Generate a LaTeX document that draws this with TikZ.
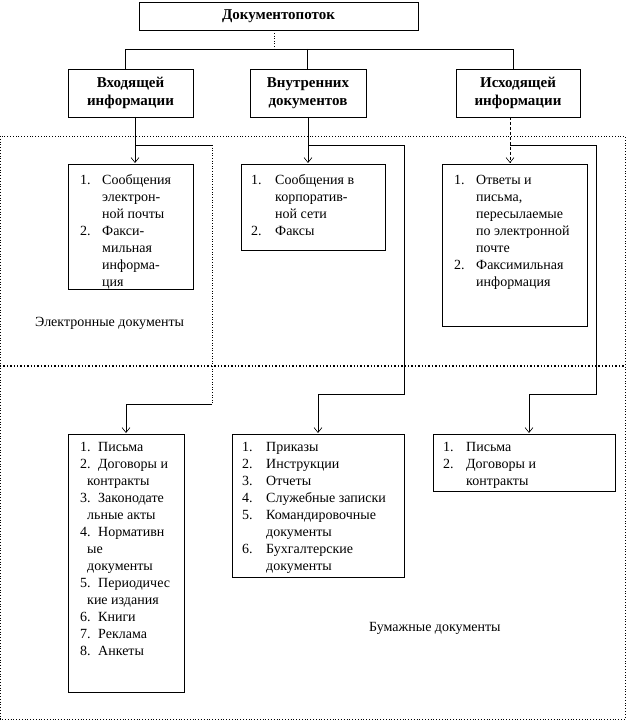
\documentclass[tikz,border=0pt]{standalone}
\usepackage{fontspec}
\setmainfont{Liberation Serif}
\usetikzlibrary{arrows.meta}
\begin{document}
\begin{tikzpicture}[x=1pt,y=-1pt,
  box/.style={draw,line width=0.6pt},
  hbox/.style={draw,line width=0.9pt,fill=white,inner sep=0,font=\fontsize{15}{18}\selectfont\bfseries,align=center},
  lst/.style={anchor=north west,inner sep=0,font=\fontsize{14}{17}\selectfont},
  cn/.style={line width=0.6pt},
  arr/.style={cn,-{Straight Barb[length=5pt,width=8pt]}},
  region/.style={dotted,line width=0.8pt}]
\useasboundingbox (0,0) rectangle (636,722);
% regions
\draw[region] (0,136) rectangle (625,719);
\draw[region,line width=1.4pt] (0,366) -- (625,366);
% header boxes
\node[hbox,minimum width=279,minimum height=28] (top) at (278.5,16) {Документопоток};
\node[hbox,minimum width=125,minimum height=48] (inc) at (130.5,93) {Входящей\\информации};
\node[hbox,minimum width=116,minimum height=48] (int) at (308,93) {Внутренних\\документов};
\node[hbox,minimum width=124,minimum height=48] (out) at (518,93) {Исходящей\\информации};
\coordinate (s) at (274,49);
\draw[cn,dotted] (top.south -| s) -- (s);
\draw[cn] (125,69) -- (125,49) -- (513,49) -- (513,69);
\draw[cn] (307,49) -- (307,69);
% electronic boxes
\draw[box] (68,164) rectangle (193,289);
\draw[box] (241,164) rectangle (385,250);
\draw[box] (442,164) rectangle (587,326);
\node[lst] (e1) at (80,172) {\begin{tabular}{@{}p{22pt}@{}l@{}}1. & Сообщения\\ & электрон-\\ & ной почты\\2. & Факси-\\ & мильная\\ & информа-\\ & ция\end{tabular}};
\node[lst] (e2) at (251,172) {\begin{tabular}{@{}p{24pt}@{}l@{}}1. & Сообщения в\\ & корпоратив-\\ & ной сети\\2. & Факсы\end{tabular}};
\node[lst] (e3) at (454,172) {\begin{tabular}{@{}p{22pt}@{}l@{}}1. & Ответы и\\ & письма,\\ & пересылаемые\\ & по электронной\\ & почте\\2. & Факсимильная\\ & информация\end{tabular}};
\node[anchor=west,inner sep=0,font=\fontsize{14}{17}\selectfont] (el) at (35,323) {Электронные документы};
% paper boxes
\draw[box] (68,434) rectangle (184,692);
\draw[box] (232,434) rectangle (404,577);
\draw[box] (433,434) rectangle (615,491);
\node[lst] (p1) at (80,439) {\begin{tabular}{@{}p{18pt}@{}l@{}}1. & Письма\\2. & Договоры и\\\multicolumn{2}{@{}l}{\hspace{7pt}контракты}\\3. & Законодате\\\multicolumn{2}{@{}l}{\hspace{7pt}льные акты}\\4. & Нормативн\\\multicolumn{2}{@{}l}{\hspace{7pt}ые}\\\multicolumn{2}{@{}l}{\hspace{7pt}документы}\\5. & Периодичес\\\multicolumn{2}{@{}l}{\hspace{7pt}кие издания}\\6. & Книги\\7. & Реклама\\8. & Анкеты\end{tabular}};
\node[lst] (p2) at (242,439) {\begin{tabular}{@{}p{24pt}@{}l@{}}1. & Приказы\\2. & Инструкции\\3. & Отчеты\\4. & Служебные записки\\5. & Командировочные\\ & документы\\6. & Бухгалтерские\\ & документы\end{tabular}};
\node[lst] (p3) at (443,439) {\begin{tabular}{@{}p{23pt}@{}l@{}}1. & Письма\\2. & Договоры и\\ & контракты\end{tabular}};
\node[anchor=west,inner sep=0,font=\fontsize{14}{17}\selectfont] (pl) at (369,628) {Бумажные документы};
% connectors
\draw[arr] (135,117) -- (135,163);
\draw[cn] (135,145) -- (212,145);
\draw[cn,dotted,line width=1pt] (212,145) -- (212,404);
\draw[cn] (212,404) -- (126,404);
\draw[arr] (126,404) -- (126,433);
\draw[arr] (308,117) -- (308,163);
\draw[cn] (308,145) -- (404,145) -- (404,394) -- (318,394);
\draw[arr] (318,394) -- (318,433);
\draw[arr,densely dashed] (510,117) -- (510,163);
\draw[cn] (510,145) -- (596,145) -- (596,394) -- (529,394);
\draw[arr] (529,394) -- (529,433);
\end{tikzpicture}
\end{document}
